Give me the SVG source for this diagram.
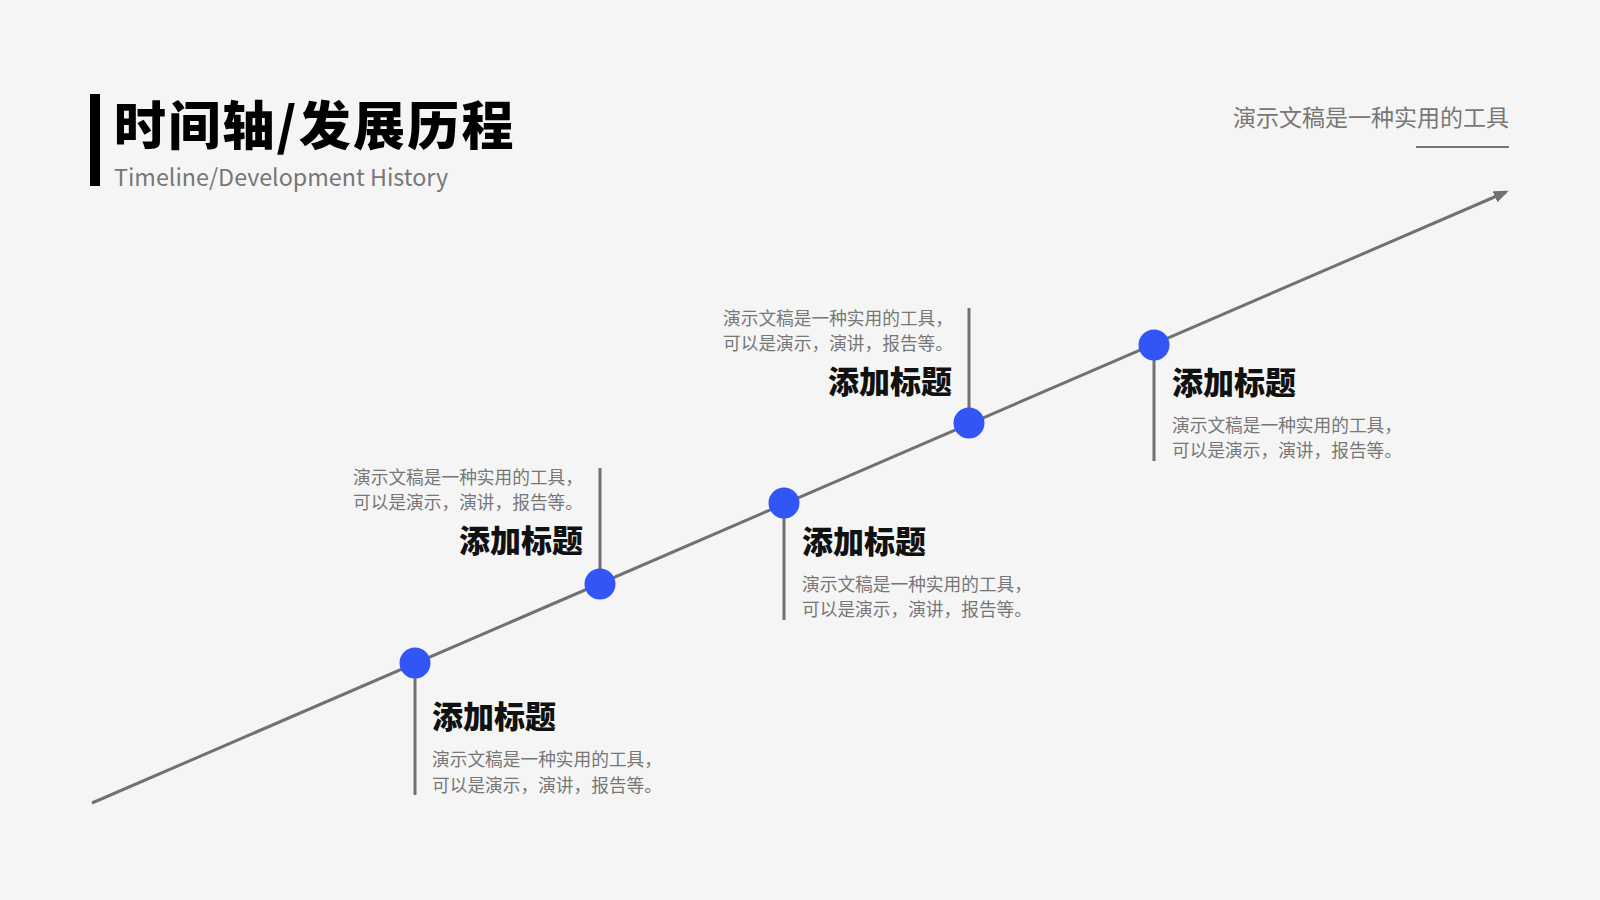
<svg xmlns="http://www.w3.org/2000/svg" width="1600" height="900" viewBox="0 0 1600 900">
<defs>
<style>
.conn{stroke:#717171;stroke-width:3;fill:none}
.dot{fill:#3355f6}
.ttl{font-family:"Noto Sans CJK SC","Noto Sans",sans-serif;font-weight:900;font-size:31px;fill:#111}
.body{font-family:"Noto Sans CJK SC","Noto Sans",sans-serif;font-size:17.7px;fill:#777}
</style>
<marker id="arr" markerUnits="userSpaceOnUse" markerWidth="18" markerHeight="14" refX="12" refY="6" orient="auto">
<path d="M0,0 L15,6 L0,12 z" fill="#717171"/>
</marker>
</defs>
<rect width="1600" height="900" fill="#f5f5f5"/>
<g id="header">
<rect x="90" y="94" width="10" height="92" fill="#000"/>
<text x="114" y="145" font-family="'Noto Sans CJK SC','Noto Sans',sans-serif" font-weight="900" font-size="52" letter-spacing="2.2" fill="#000">时间轴/发展历程</text>
<text x="114" y="186" font-family="'Noto Sans CJK SC','Noto Sans',sans-serif" font-size="23.3" fill="#777">Timeline/Development History</text>
</g>
<g id="tagline">
<text x="1509" y="126" text-anchor="end" font-family="'Noto Sans CJK SC','Noto Sans',sans-serif" font-size="23" fill="#777">演示文稿是一种实用的工具</text>
<line x1="1416" y1="147" x2="1509" y2="147" stroke="#777" stroke-width="2"/>
</g>
<g id="connectors">
<line class="conn" x1="92" y1="803" x2="1506" y2="192" marker-end="url(#arr)"/>
<line class="conn" x1="415" y1="663" x2="415" y2="795"/>
<line class="conn" x1="600" y1="468" x2="600" y2="584"/>
<line class="conn" x1="784" y1="503" x2="784" y2="620"/>
<line class="conn" x1="969" y1="308" x2="969" y2="423"/>
<line class="conn" x1="1154" y1="345" x2="1154" y2="461"/>
</g>
<g id="m1">
<circle class="dot" cx="415" cy="663" r="15.5"/>
<text class="ttl" x="432" y="728">添加标题</text>
<text class="body" x="432" y="766">演示文稿是一种实用的工具，</text>
<text class="body" x="432" y="792">可以是演示，演讲，报告等。</text>
</g>
<g id="m2">
<circle class="dot" cx="600" cy="584" r="15.5"/>
<text class="ttl" x="583" y="552" text-anchor="end">添加标题</text>
<text class="body" x="353" y="484">演示文稿是一种实用的工具，</text>
<text class="body" x="353" y="509">可以是演示，演讲，报告等。</text>
</g>
<g id="m3">
<circle class="dot" cx="784" cy="503" r="15.5"/>
<text class="ttl" x="802" y="553">添加标题</text>
<text class="body" x="802" y="591">演示文稿是一种实用的工具，</text>
<text class="body" x="802" y="616">可以是演示，演讲，报告等。</text>
</g>
<g id="m4">
<circle class="dot" cx="969" cy="423" r="15.5"/>
<text class="ttl" x="952" y="393" text-anchor="end">添加标题</text>
<text class="body" x="723" y="325">演示文稿是一种实用的工具，</text>
<text class="body" x="723" y="350">可以是演示，演讲，报告等。</text>
</g>
<g id="m5">
<circle class="dot" cx="1154" cy="345" r="15.5"/>
<text class="ttl" x="1172" y="394">添加标题</text>
<text class="body" x="1172" y="432">演示文稿是一种实用的工具，</text>
<text class="body" x="1172" y="457">可以是演示，演讲，报告等。</text>
</g>
</svg>
